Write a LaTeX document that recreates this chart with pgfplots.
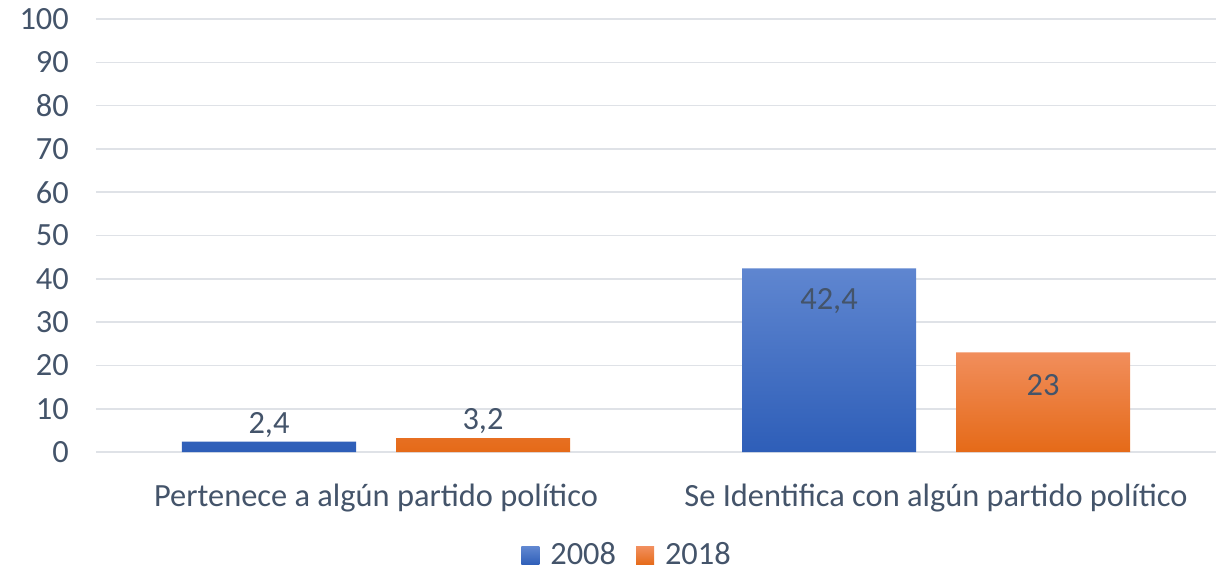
\documentclass[border=0pt]{standalone}
\usepackage{pgfplots}
\usepackage{pgfplotstable}
\pgfplotsset{compat=1.18}
\usepackage{fontspec}
\setmainfont{Carlito}
\definecolor{txt}{HTML}{44546A}
\definecolor{gridc}{HTML}{DFE2E7}
\definecolor{bluetop}{HTML}{5F86D0}
\definecolor{bluemid}{HTML}{426FC6}
\definecolor{bluebot}{HTML}{2E5EB8}
\definecolor{ortop}{HTML}{F18E5C}
\definecolor{ormid}{HTML}{F47C25}
\definecolor{orbot}{HTML}{E56A18}
\pgfplotstableread{
x y dy
0 2.4 8.5
1 42.4 -16.5
}\tblA
\pgfplotstableread{
x y dy
0 3.2 8.5
1 23 -16.5
}\tblB
\newcommand{\chartfont}{\fontsize{16.2}{19}\selectfont}
\begin{document}
\chartfont
\begin{tikzpicture}
\useasboundingbox (-48pt,-59pt) rectangle (564.5pt,226pt);
\begin{axis}[
  at={(0,0)}, anchor=south west,
  scale only axis, width=560pt, height=216.5pt,
  ybar=20pt, bar width=87pt,
  xmin=-0.5, xmax=1.5, ymin=0, ymax=100,
  ytick={0,10,...,100},
  xtick={0,1},
  xticklabels={Pertenece a algún partido político, Se Identifica con algún partido político},
  axis line style={draw=none},
  major tick style={draw=none},
  ymajorgrids, xmajorgrids=false,
  major grid style={draw=gridc, line width=0.8pt},
  tick label style={text=txt, font=\chartfont},
  yticklabel style={xshift=-8pt},
  xticklabel style={yshift=-6pt},
  /pgf/number format/assume math mode=true,
  /pgf/number format/use comma,
  clip=false,
  nodes near coords,
  visualization depends on={\thisrow{dy} \as \dy},
  every node near coord/.append style={anchor=center, yshift=\dy pt, text=txt, font=\chartfont},
  legend columns=2,
  legend style={at={(axis description cs:0.475,-0.24)}, anchor=center, draw=none, fill=none,
    font=\chartfont, text=txt,
    /tikz/every odd column/.append style={column sep=3.5pt},
    /tikz/every even column/.append style={column sep=8pt}},
  legend image code/.code={\path[#1, draw=none] (0pt,-4.5pt) rectangle (9pt,4.5pt);},
]
\addplot[draw=none, top color=bluetop, middle color=bluemid, bottom color=bluebot] table[x=x,y=y] {\tblA};
\addplot[draw=none, top color=ortop, middle color=ormid, bottom color=orbot] table[x=x,y=y] {\tblB};
\legend{2008, 2018}
\end{axis}
\end{tikzpicture}
\end{document}
